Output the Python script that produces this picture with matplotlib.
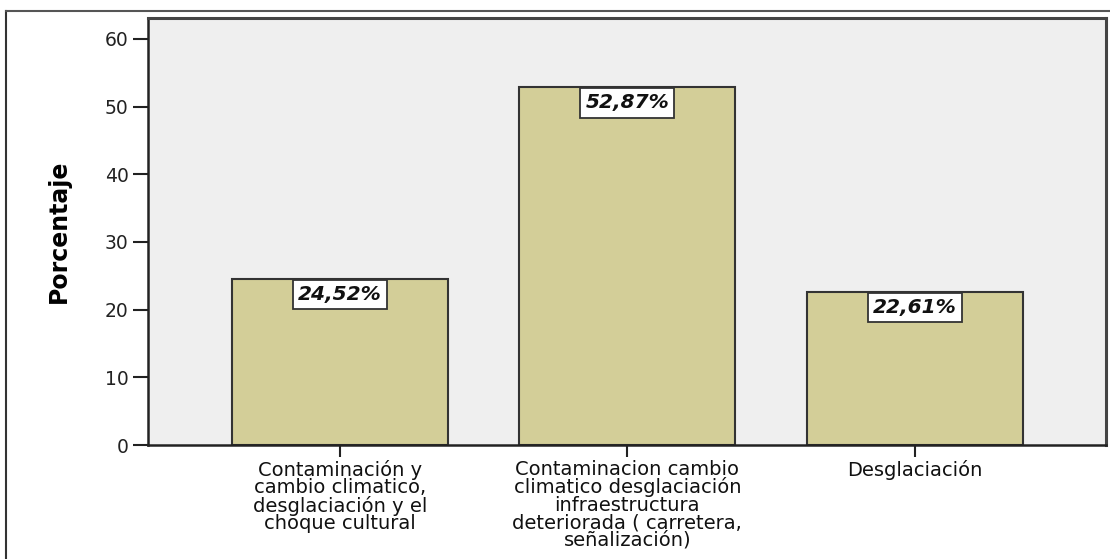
import matplotlib.pyplot as plt
from matplotlib.lines import Line2D

categories = [
    'Contaminación y\ncambio climatico,\ndesglaciación y el\nchoque cultural',
    'Contaminacion cambio\nclimatico desglaciación\ninfraestructura\ndeteriorada ( carretera,\nseñalización)',
    'Desglaciación',
]
values = [24.52, 52.87, 22.61]
labels = ['24,52%', '52,87%', '22,61%']
yticks = [0, 10, 20, 30, 40, 50, 60]

bar_color = '#d3ce98'
bg_color = '#efefef'
edge = '#333333'

fig = plt.figure(figsize=(11.10, 5.59), dpi=100)
ax = fig.add_axes([0.1333, 0.2039, 0.8631, 0.7639])
ax.set_facecolor(bg_color)

x = range(len(values))
ax.bar(x, values, width=0.75, color=bar_color, edgecolor=edge, linewidth=1.5, zorder=2)

for xi, v, lab in zip(x, values, labels):
    ax.annotate(lab, (xi, v), xytext=(0, -4.5), textcoords='offset points',
                ha='center', va='top', fontsize=14.5, fontweight='heavy',
                fontstyle='italic', color='#111111', zorder=3,
                bbox=dict(boxstyle='square,pad=0.25', facecolor='white',
                          edgecolor=edge, linewidth=1.3))

ax.set_xlim(-0.667, 2.665)
ax.set_ylim(0, 63.1)
ax.set_yticks(yticks)
ax.set_yticklabels([str(t) for t in yticks], fontsize=13.5, color='#222222')
ax.set_xticks(list(x))
ax.set_xticklabels(categories, fontsize=14, color='#111111', linespacing=0.9, va='top')
ax.tick_params(axis='y', length=11, width=1.5, pad=3, color='#222222')
ax.tick_params(axis='x', length=8.5, width=1.5, pad=2, color='#222222')

for side in ['left', 'bottom']:
    ax.spines[side].set_color('#222222')
    ax.spines[side].set_linewidth(1.8)
for side in ['top', 'right']:
    ax.spines[side].set_color('#444444')
    ax.spines[side].set_linewidth(2.2)

ax.set_ylabel('Porcentaje', fontsize=17, fontweight='bold',
              family=['Liberation Sans Narrow', 'DejaVu Sans'])
ax.yaxis.set_label_coords(-0.080, 0.5)

# outer frame (left and top edges visible in the reference)
fx, fy = 6 / 1110, 1 - 11 / 559
fig.add_artist(Line2D([fx, fx], [0, fy], transform=fig.transFigure, color='#333333', lw=1.5))
fig.add_artist(Line2D([fx, 1], [fy, fy], transform=fig.transFigure, color='#555555', lw=1.5))

fig.savefig('out.png', dpi=100, facecolor='white')
